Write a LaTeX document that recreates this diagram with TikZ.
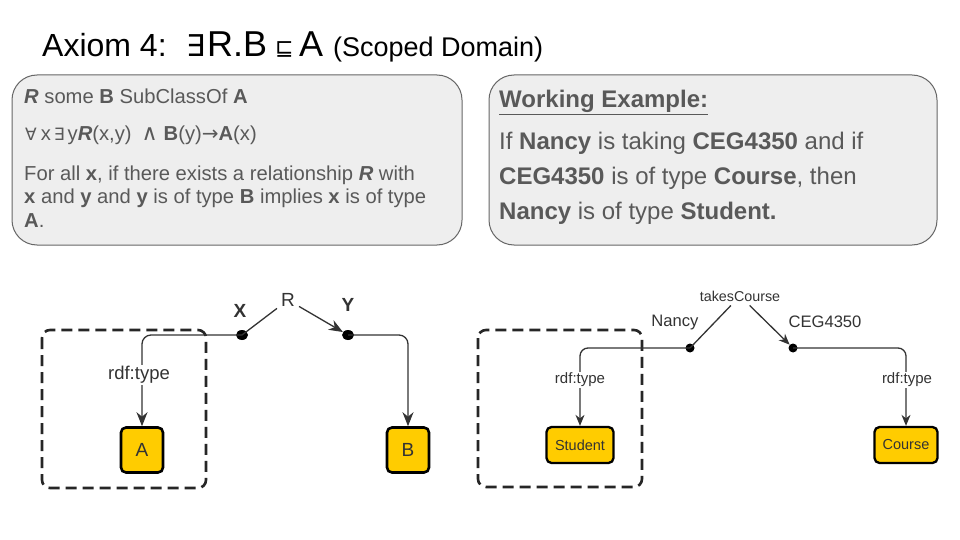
\documentclass[tikz,border=0pt]{standalone}
\usepackage{fontspec}
\setmainfont{Liberation Sans}
\newfontfamily\symf{DejaVu Sans}
\usetikzlibrary{arrows.meta,shapes.geometric}
\definecolor{classfill}{HTML}{FFCC00}
\definecolor{txtgray}{HTML}{595959}
\definecolor{panelfill}{HTML}{EEEEEE}
\definecolor{panelline}{HTML}{666666}
\definecolor{linkc}{HTML}{333333}
\begin{document}
\begin{tikzpicture}[x=1pt,y=-1pt,
  panel/.style={draw=panelline, line width=1pt, fill=panelfill, rounded corners=25pt},
  ptext/.style={anchor=base west, inner sep=0pt, text=txtgray},
  cls/.style={draw=black, line width=2.6pt, fill=classfill, rounded corners=5pt, inner sep=0pt, text=black!80},
  dotbig/.style={ellipse, fill=black, inner sep=0pt, minimum width=12pt, minimum height=10pt},
  dotsmall/.style={circle, fill=black, inner sep=0pt, minimum size=9pt},
  link/.style={draw=linkc, line width=1.3pt},
  arr/.style={link, -{Stealth[length=14pt,width=11pt,inset=4.5pt]}},
  arrs/.style={link, -{Stealth[length=11pt,width=9pt,inset=3.5pt]}},
  region/.style={draw=black!85, line width=2.6pt, dash pattern=on 11pt off 6pt, rounded corners=8pt},
  lbl/.style={inner sep=2pt, text=black!80}
]
\useasboundingbox (0,0) rectangle (960,540);
\fill[white] (0,0) rectangle (960,540);

% title
\node[anchor=base west, inner sep=0pt, font=\fontsize{32}{36}\selectfont] (t1) at (42,57) {Axiom 4:};
\node[anchor=base west, inner sep=0pt, font=\symf\fontsize{30}{34}\selectfont] (t2) at (186,57) {∃};
\node[anchor=base west, inner sep=0pt, font=\fontsize{36}{40}\selectfont] (t3) at (207,57) {R.B};
\node[anchor=base west, inner sep=0pt, font=\symf\fontsize{22}{26}\selectfont] (t4) at (275,56) {⊑};
\node[anchor=base west, inner sep=0pt, font=\fontsize{36}{40}\selectfont] (t5) at (299,57) {A};
\node[anchor=base west, inner sep=0pt, font=\fontsize{27}{30}\selectfont] (t6) at (333,57) {(Scoped Domain)};

% panels
\draw[panel] (12,75) rectangle (462,245);
\draw[panel] (489,75) rectangle (937,245);

\begin{scope}[font=\fontsize{20.2}{23}\selectfont]
\node[ptext] (l1) at (24,104) {\textbf{\textit{R}} some \textbf{B} SubClassOf \textbf{A}};
\node[ptext] (l2) at (25,141) {{\symf\fontsize{17}{20}\selectfont ∀}\hspace{4pt}x\hspace{3pt}{\symf\fontsize{17}{20}\selectfont ∃}\hspace{3pt}y\textbf{\textit{R}}(x,y)\hspace{10pt}{\symf\fontsize{22}{20}\selectfont ∧}\hspace{6pt}\textbf{B}(y){\symf\fontsize{20}{20}\selectfont →}\textbf{A}(x)};
\node[ptext] (l3) at (24,181) {For all \textbf{x}, if there exists a relationship \textbf{\textit{R}} with};
\node[ptext] (l4) at (24,204) {\textbf{x} and \textbf{y} and \textbf{y} is of type \textbf{B} implies \textbf{x} is of type};
\node[ptext] (l5) at (24,227) {\textbf{A}.};
\end{scope}

\begin{scope}[font=\fontsize{24}{28}\selectfont]
\node[ptext] (r1) at (499,108) {\textbf{\underline{Working Example:}}};
\node[ptext] (r2) at (499,150) {If \textbf{Nancy} is taking \textbf{CEG4350} and if};
\node[ptext] (r3) at (499,184) {\textbf{CEG4350} is of type \textbf{Course}, then};
\node[ptext] (r4) at (499,219) {\textbf{Nancy} is of type \textbf{Student.}};
\end{scope}

% ---------- left diagram ----------
\draw[region] (42,330) rectangle (206,488);
\node[cls, minimum width=42pt, minimum height=45pt, font=\fontsize{19}{22}\selectfont] (A) at (142,450) {A};
\node[cls, minimum width=42pt, minimum height=45pt, font=\fontsize{19}{22}\selectfont] (B) at (408,450) {B};
\node[dotbig] (dx) at (242,335) {};
\node[dotbig] (dy) at (348,335) {};
\node[lbl, font=\bfseries\fontsize{19}{22}\selectfont] (xl) at (240,311) {X};
\node[lbl, font=\bfseries\fontsize{19}{22}\selectfont] (yl) at (348,305) {Y};
\node[lbl, inner sep=4pt, font=\fontsize{19}{22}\selectfont] (rl) at (288,300) {R};
\draw[link] (dx.center) -- (rl);
\draw[arr] (rl) -- (dy);
\draw[arr, rounded corners=9pt] (dx.center) -| (A.north);
\draw[arr, rounded corners=9pt] (dy.center) -| (B.north);
\node[lbl, fill=white, inner sep=1pt, font=\fontsize{18.5}{22}\selectfont] (rt1) at (139,375) {rdf:type};

% ---------- right diagram ----------
\draw[region] (478,330) rectangle (642,487);
\node[cls, line width=2.3pt, minimum width=67pt, minimum height=36pt, font=\fontsize{14.5}{17}\selectfont] (st) at (580,445) {Student};
\node[cls, line width=2.3pt, minimum width=63pt, minimum height=36pt, font=\fontsize{14.5}{17}\selectfont] (co) at (906,445) {Course};
\node[dotsmall] (dn) at (690,348) {};
\node[dotsmall] (dc) at (793,348) {};
\node[lbl, inner sep=4pt, font=\fontsize{14.3}{17}\selectfont] (tc) at (740,296) {takesCourse};
\node[lbl, font=\fontsize{16.6}{19}\selectfont] (nl) at (675,323) {Nancy};
\node[lbl, font=\fontsize{16.6}{19}\selectfont] (cl) at (825,322) {CEG4350};
\draw[link] (dn.center) -- (tc);
\draw[arrs] (tc) -- (dc);
\draw[arrs, rounded corners=8pt] (dn.center) -| (st.north);
\draw[arrs, rounded corners=8pt] (dc.center) -| (co.north);
\node[lbl, fill=white, inner sep=1pt, font=\fontsize{15}{18}\selectfont] (rt2) at (580,380) {rdf:type};
\node[lbl, fill=white, inner sep=1pt, font=\fontsize{15}{18}\selectfont] (rt3) at (907,380) {rdf:type};
\end{tikzpicture}
\end{document}
